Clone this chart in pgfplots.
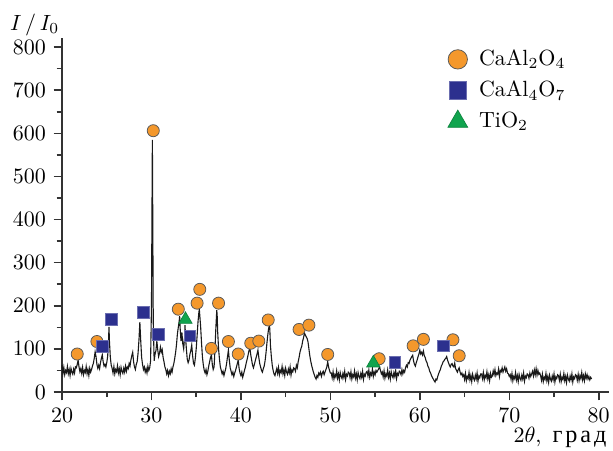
\documentclass[border=0pt]{standalone}
\usepackage{pgfplots}
\pgfplotsset{compat=1.18}
\usepackage{fontspec}
\newfontfamily\cyr[LetterSpace=12,Scale=1.1]{Liberation Serif}
\definecolor{corange}{RGB}{244,152,44}
\definecolor{cblue}{RGB}{44,48,142}
\definecolor{cgreen}{RGB}{16,164,78}
\begin{document}
\begin{tikzpicture}
\begin{axis}[
  name=ax,
  x=4.067pt, y=0.196pt,
  xmin=20, xmax=81.2, ymin=0, ymax=820,
  axis x line=bottom, axis y line=left,
  axis line style={-, line width=0.7pt, black!80},
  xtick={20,30,...,80}, minor xtick={25,35,...,75},
  ytick={0,100,...,800}, minor ytick={50,150,...,750},
  tick align=outside,
  major tick length=3.8pt, minor tick length=2.4pt,
  every tick/.style={black!80, line width=0.7pt},
  clip=false,
  legend cell align=left,
  legend style={draw=none, fill=none, at={(axis cs:62.35,815)}, anchor=north west,
    row sep=1.5pt, font=\normalsize},
  legend image code/.code={\draw[#1] plot coordinates {(0.15cm,0cm)}; \path[draw=none,fill=none] (0cm,0cm) (0.42cm,0cm);},
]
\addplot[black!90, line width=0.5pt, forget plot] table[row sep=\\] {
x y\\
20.0 62\\ 20.1 43\\ 20.2 57\\ 20.3 40\\ 20.4 50\\ 20.5 45\\ 20.6 59\\ 20.7 42\\ 20.8 52\\ 20.9 38\\
21.0 55\\ 21.1 46\\ 21.2 41\\ 21.3 53\\ 21.4 44\\ 21.5 58\\ 21.6 56\\ 21.7 64\\ 21.8 74\\ 21.9 58\\
22.0 47\\ 22.1 54\\ 22.2 43\\ 22.3 57\\ 22.4 40\\ 22.5 50\\ 22.6 45\\ 22.7 59\\ 22.8 42\\ 22.9 52\\
23.0 38\\ 23.1 55\\ 23.2 46\\ 23.3 52\\ 23.4 60\\ 23.5 66\\ 23.6 78\\ 23.7 93\\ 23.8 82\\ 23.9 64\\
24.0 55\\ 24.1 62\\ 24.2 54\\ 24.3 68\\ 24.4 78\\ 24.5 86\\ 24.6 70\\ 24.7 60\\ 24.8 64\\ 24.9 58\\
25.0 68\\ 25.1 82\\ 25.2 120\\ 25.25 151\\ 25.3 118\\ 25.4 80\\ 25.5 62\\ 25.6 55\\ 25.7 44\\ 25.8 59\\ 25.9 42\\
26.0 52\\ 26.1 47\\ 26.2 61\\ 26.3 44\\ 26.4 54\\ 26.5 40\\ 26.6 57\\ 26.7 48\\ 26.8 43\\ 26.9 55\\
27.0 46\\ 27.1 60\\ 27.2 48\\ 27.3 58\\ 27.4 54\\ 27.5 66\\ 27.6 60\\ 27.7 74\\ 27.8 84\\ 27.9 92\\
28.0 70\\ 28.1 58\\ 28.2 52\\ 28.3 64\\ 28.4 70\\ 28.5 90\\ 28.6 120\\ 28.7 162\\ 28.8 118\\ 28.9 80\\
29.0 64\\ 29.1 52\\ 29.2 58\\ 29.3 46\\ 29.4 54\\ 29.5 44\\ 29.6 60\\ 29.7 50\\ 29.8 56\\ 29.9 72\\
30.0 200\\ 30.05 400\\ 30.1 585\\ 30.15 380\\ 30.2 160\\ 30.3 72\\ 30.4 88\\ 30.5 96\\ 30.6 118\\ 30.7 98\\ 30.8 82\\ 30.9 90\\
31.0 104\\ 31.1 92\\ 31.2 98\\ 31.3 80\\ 31.4 70\\ 31.5 58\\ 31.6 52\\ 31.7 42\\ 31.8 50\\ 31.9 38\\
32.0 48\\ 32.1 42\\ 32.2 54\\ 32.3 46\\ 32.4 58\\ 32.5 66\\ 32.6 78\\ 32.7 92\\ 32.8 110\\ 32.9 135\\
33.0 150\\ 33.1 165\\ 33.15 176\\ 33.2 150\\ 33.3 118\\ 33.4 138\\ 33.5 112\\ 33.6 100\\ 33.7 126\\ 33.75 155\\ 33.8 130\\ 33.9 100\\
34.0 76\\ 34.1 68\\ 34.2 74\\ 34.3 88\\ 34.4 96\\ 34.5 109\\ 34.6 84\\ 34.7 66\\ 34.8 62\\ 34.9 78\\
35.0 100\\ 35.1 130\\ 35.2 162\\ 35.3 185\\ 35.35 192\\ 35.4 178\\ 35.5 150\\ 35.6 112\\ 35.7 80\\ 35.8 62\\ 35.9 50\\
36.0 44\\ 36.1 52\\ 36.2 40\\ 36.3 48\\ 36.4 60\\ 36.5 70\\ 36.6 80\\ 36.7 86\\ 36.8 64\\ 36.9 52\\
37.0 58\\ 37.1 100\\ 37.2 150\\ 37.3 190\\ 37.35 175\\ 37.4 140\\ 37.5 100\\ 37.6 76\\ 37.7 58\\ 37.8 50\\ 37.9 42\\
38.0 48\\ 38.1 38\\ 38.2 46\\ 38.3 54\\ 38.4 66\\ 38.5 82\\ 38.6 97\\ 38.7 74\\ 38.8 56\\ 38.9 48\\
39.0 40\\ 39.1 46\\ 39.2 36\\ 39.3 44\\ 39.4 50\\ 39.5 58\\ 39.6 66\\ 39.7 74\\ 39.8 54\\ 39.9 44\\
40.0 38\\ 40.1 46\\ 40.2 34\\ 40.3 42\\ 40.4 50\\ 40.5 58\\ 40.6 68\\ 40.7 76\\ 40.8 86\\ 40.9 96\\
41.0 102\\ 41.1 86\\ 41.2 74\\ 41.3 62\\ 41.4 56\\ 41.5 64\\ 41.6 72\\ 41.7 80\\ 41.8 88\\ 41.9 97\\
42.0 80\\ 42.1 66\\ 42.2 58\\ 42.3 50\\ 42.4 46\\ 42.5 54\\ 42.6 60\\ 42.7 72\\ 42.8 90\\ 42.9 112\\
43.0 132\\ 43.1 148\\ 43.2 155\\ 43.25 135\\ 43.3 108\\ 43.4 82\\ 43.5 62\\ 43.6 50\\ 43.7 42\\ 43.8 38\\ 43.9 46\\
44.0 54\\ 44.1 43\\ 44.2 57\\ 44.3 40\\ 44.4 50\\ 44.5 45\\ 44.6 59\\ 44.7 42\\ 44.8 52\\ 44.9 38\\
45.0 55\\ 45.1 46\\ 45.2 41\\ 45.3 53\\ 45.4 44\\ 45.5 58\\ 45.6 39\\ 45.7 51\\ 45.8 47\\ 45.9 56\\
46.0 54\\ 46.1 48\\ 46.2 62\\ 46.3 56\\ 46.4 70\\ 46.5 80\\ 46.6 92\\ 46.7 100\\ 46.8 106\\ 46.9 118\\
47.0 126\\ 47.1 137\\ 47.2 132\\ 47.3 128\\ 47.4 124\\ 47.5 116\\ 47.6 100\\ 47.7 84\\ 47.8 72\\ 47.9 62\\
48.0 54\\ 48.1 46\\ 48.2 40\\ 48.3 34\\ 48.4 30\\ 48.5 38\\ 48.6 34\\ 48.7 44\\ 48.8 40\\ 48.9 46\\
49.0 36\\ 49.1 44\\ 49.2 48\\ 49.3 40\\ 49.4 46\\ 49.5 52\\ 49.6 58\\ 49.7 70\\ 49.8 58\\ 49.9 50\\
50.0 44\\ 50.1 44\\ 50.2 33\\ 50.3 47\\ 50.4 30\\ 50.5 40\\ 50.6 35\\ 50.7 49\\ 50.8 32\\ 50.9 42\\
51.0 28\\ 51.1 45\\ 51.2 36\\ 51.3 31\\ 51.4 43\\ 51.5 34\\ 51.6 48\\ 51.7 29\\ 51.8 41\\ 51.9 37\\
52.0 46\\ 52.1 44\\ 52.2 33\\ 52.3 47\\ 52.4 30\\ 52.5 40\\ 52.6 35\\ 52.7 49\\ 52.8 32\\ 52.9 42\\
53.0 28\\ 53.1 45\\ 53.2 36\\ 53.3 31\\ 53.4 43\\ 53.5 34\\ 53.6 48\\ 53.7 29\\ 53.8 41\\ 53.9 37\\
54.0 46\\ 54.1 48\\ 54.2 37\\ 54.3 51\\ 54.4 34\\ 54.5 44\\ 54.6 39\\ 54.7 53\\ 54.8 36\\ 54.9 46\\
55.0 40\\ 55.1 50\\ 55.2 46\\ 55.3 50\\ 55.4 54\\ 55.5 58\\ 55.6 50\\ 55.7 42\\ 55.8 46\\ 55.9 35\\
56.0 49\\ 56.1 32\\ 56.2 42\\ 56.3 37\\ 56.4 51\\ 56.5 34\\ 56.6 44\\ 56.7 30\\ 56.8 47\\ 56.9 38\\
57.0 33\\ 57.1 45\\ 57.2 36\\ 57.3 50\\ 57.4 31\\ 57.5 43\\ 57.6 39\\ 57.7 48\\ 57.8 46\\ 57.9 40\\
58.0 52\\ 58.1 42\\ 58.2 50\\ 58.3 46\\ 58.4 56\\ 58.5 62\\ 58.6 58\\ 58.7 68\\ 58.8 66\\ 58.9 74\\
59.0 78\\ 59.1 82\\ 59.2 85\\ 59.3 72\\ 59.4 64\\ 59.5 60\\ 59.6 68\\ 59.7 74\\ 59.8 82\\ 59.9 88\\
60.0 97\\ 60.1 88\\ 60.2 92\\ 60.3 86\\ 60.4 95\\ 60.5 84\\ 60.6 80\\ 60.7 72\\ 60.8 68\\ 60.9 60\\
61.0 56\\ 61.1 48\\ 61.2 44\\ 61.3 38\\ 61.4 34\\ 61.5 30\\ 61.6 26\\ 61.7 23\\ 61.8 30\\ 61.9 28\\
62.0 36\\ 62.1 42\\ 62.2 48\\ 62.3 52\\ 62.4 60\\ 62.5 64\\ 62.6 70\\ 62.7 72\\ 62.8 76\\ 62.9 78\\
63.0 82\\ 63.1 74\\ 63.2 68\\ 63.3 62\\ 63.4 58\\ 63.5 64\\ 63.6 66\\ 63.7 60\\ 63.8 58\\ 63.9 67\\
64.0 54\\ 64.1 50\\ 64.2 46\\ 64.3 52\\ 64.4 56\\ 64.5 46\\ 64.6 40\\ 64.7 44\\ 64.8 36\\ 64.9 40\\
65.0 29\\ 65.1 43\\ 65.2 26\\ 65.3 36\\ 65.4 31\\ 65.5 45\\ 65.6 28\\ 65.7 38\\ 65.8 24\\ 65.9 41\\
66.0 32\\ 66.1 27\\ 66.2 39\\ 66.3 30\\ 66.4 44\\ 66.5 25\\ 66.6 37\\ 66.7 33\\ 66.8 42\\ 66.9 42\\
67.0 31\\ 67.1 45\\ 67.2 28\\ 67.3 38\\ 67.4 33\\ 67.5 47\\ 67.6 30\\ 67.7 40\\ 67.8 26\\ 67.9 43\\
68.0 34\\ 68.1 37\\ 68.2 49\\ 68.3 40\\ 68.4 52\\ 68.5 38\\ 68.6 44\\ 68.7 41\\ 68.8 53\\ 68.9 36\\
69.0 50\\ 69.1 47\\ 69.2 56\\ 69.3 46\\ 69.4 52\\ 69.5 58\\ 69.6 48\\ 69.7 54\\ 69.8 44\\ 69.9 42\\
70.0 36\\ 70.1 40\\ 70.2 29\\ 70.3 43\\ 70.4 26\\ 70.5 36\\ 70.6 31\\ 70.7 45\\ 70.8 28\\ 70.9 38\\
71.0 24\\ 71.1 41\\ 71.2 32\\ 71.3 27\\ 71.4 39\\ 71.5 30\\ 71.6 44\\ 71.7 25\\ 71.8 37\\ 71.9 33\\
72.0 42\\ 72.1 40\\ 72.2 32\\ 72.3 44\\ 72.4 36\\ 72.5 42\\ 72.6 48\\ 72.7 37\\ 72.8 51\\ 72.9 40\\
73.0 54\\ 73.1 39\\ 73.2 50\\ 73.3 41\\ 73.4 44\\ 73.5 38\\ 73.6 27\\ 73.7 41\\ 73.8 24\\ 73.9 34\\
74.0 29\\ 74.1 43\\ 74.2 26\\ 74.3 36\\ 74.4 22\\ 74.5 39\\ 74.6 30\\ 74.7 25\\ 74.8 37\\ 74.9 28\\
75.0 42\\ 75.1 23\\ 75.2 35\\ 75.3 31\\ 75.4 40\\ 75.5 38\\ 75.6 27\\ 75.7 41\\ 75.8 24\\ 75.9 34\\
76.0 29\\ 76.1 43\\ 76.2 26\\ 76.3 36\\ 76.4 22\\ 76.5 39\\ 76.6 30\\ 76.7 25\\ 76.8 37\\ 76.9 28\\
77.0 42\\ 77.1 23\\ 77.2 35\\ 77.3 31\\ 77.4 40\\ 77.5 38\\ 77.6 27\\ 77.7 41\\ 77.8 26\\ 77.9 38\\
78.0 31\\ 78.1 45\\ 78.2 28\\ 78.3 38\\ 78.4 26\\ 78.5 42\\ 78.6 32\\ 78.7 40\\ 78.8 30\\ 78.9 36\\
79.0 28\\ 79.1 34\\ 79.2 30\\
};
\addplot[only marks, mark=*, mark size=2.75pt,
  mark options={fill=corange, draw=black!65, line width=0.35pt},
  legend image post style={mark size=4.4pt}] table {
x y
21.7 88
23.9 117
30.2 606
33.0 192
35.1 206
35.4 238
37.5 206
36.7 101
38.6 117
39.7 88
41.1 113
42.0 118
43.05 167
46.5 145
47.6 155
49.7 87
55.45 77
59.25 107
60.4 122
63.7 121
64.4 84
};
\addlegendentry{CaAl$_2$O$_4$}
\addplot[only marks, mark=square*, mark size=2.65pt,
  mark options={fill=cblue, draw=cblue!70!white, line width=0.35pt},
  legend image post style={mark size=4.0pt}] table {
x y
24.5 105
25.5 169
29.1 185
30.8 134
34.3 130
57.2 68
62.6 107
};
\addlegendentry{CaAl$_4$O$_7$}
\addplot[only marks, mark=triangle*, mark size=3.5pt,
  mark options={fill=cgreen, draw=cgreen!80!black, line width=0.3pt},
  legend image post style={mark size=5.2pt}] table {
x y
33.8 168
54.8 67
};
\addlegendentry{TiO$_2$}
\node[anchor=east, inner sep=0pt] at (axis cs:19.75,852) {$I\,/\,I_0$};
\node[anchor=east, inner sep=0pt] at (axis cs:80.9,-105) {$2\theta$,\hspace{5pt}{\cyr град}};
\end{axis}
\pgfresetboundingbox
\path[use as bounding box] ([shift={(-28.2pt,-26.4pt)}]ax.south west) rectangle ([shift={(250.5pt,178.2pt)}]ax.south west);
\end{tikzpicture}
\end{document}
